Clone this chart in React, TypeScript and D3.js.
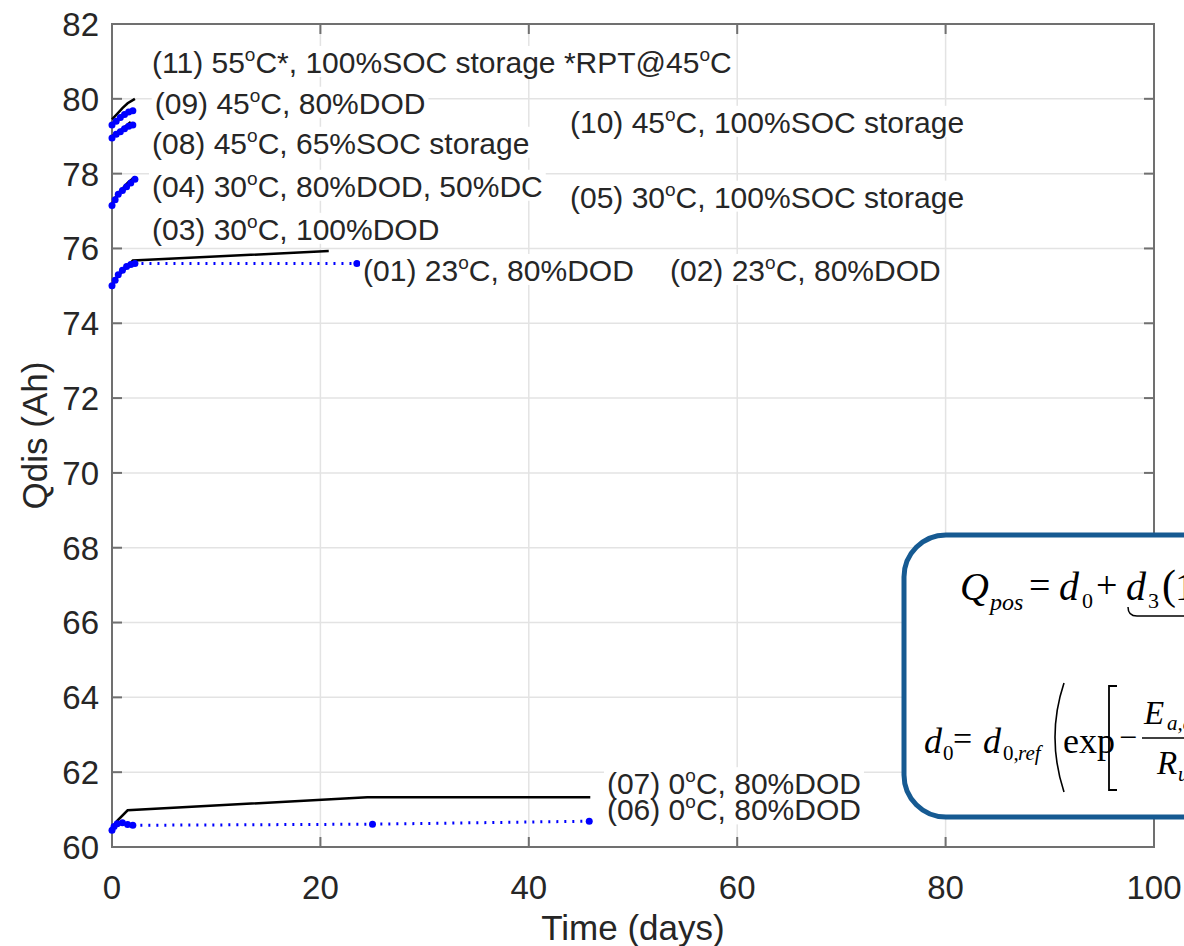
import React, { useEffect, useRef } from "react";
import * as d3 from "d3";

const W = 1184;
const H = 946;

const xTicks = [0, 20, 40, 60, 80, 100];
const yTicks = [60, 62, 64, 66, 68, 70, 72, 74, 76, 78, 80, 82];

// black solid series
const tBlack23 = [0, 0.3, 0.7, 1.2, 2, 20.8];
const qBlack23 = [75.0, 75.15, 75.3, 75.45, 75.68, 75.93];
const tBlack0 = [0, 0.5, 1.5, 24.5, 45.9];
const qBlack0 = [60.45, 60.7, 60.98, 61.33, 61.33];
const tBlack30 = [0, 0.5, 1, 1.5, 2.2];
const qBlack30 = [77.2, 77.45, 77.6, 77.75, 77.92];
const tBlack45 = [0, 0.5, 1, 1.5, 2.2];
const qBlack45 = [79.45, 79.6, 79.75, 79.88, 80.0];
const tBlack45b = [0, 1, 1.8];
const qBlack45b = [79.0, 79.2, 79.38];

// blue dotted series with markers
const tBlue23 = [0, 0.3, 0.6, 1, 1.4, 1.8, 2.2, 23.5];
const qBlue23 = [75.0, 75.15, 75.3, 75.42, 75.52, 75.57, 75.6, 75.6];
const tBlue0 = [0, 0.2, 0.5, 1, 1.5, 2, 25, 45.8];
const qBlue0 = [60.45, 60.55, 60.62, 60.65, 60.6, 60.58, 60.61, 60.69];
const tBlue30 = [0, 0.3, 0.6, 1, 1.4, 1.8, 2.2];
const qBlue30 = [77.15, 77.3, 77.45, 77.55, 77.65, 77.75, 77.85];
const tBlue45a = [0, 0.4, 0.8, 1.2, 1.6, 2.0];
const qBlue45a = [79.3, 79.4, 79.5, 79.58, 79.65, 79.68];
const tBlue45b = [0, 0.4, 0.8, 1.2, 1.6, 2.0];
const qBlue45b = [78.95, 79.05, 79.12, 79.2, 79.27, 79.3];

// annotation labels (^o = superscript o)
const labelTexts = [
  "(11) 55^oC*, 100%SOC storage *RPT@45^oC",
  "(09) 45^oC, 80%DOD",
  "(10) 45^oC, 100%SOC storage",
  "(08) 45^oC, 65%SOC storage",
  "(04) 30^oC, 80%DOD, 50%DC",
  "(05) 30^oC, 100%SOC storage",
  "(03) 30^oC, 100%DOD",
  "(01) 23^oC, 80%DOD",
  "(02) 23^oC, 80%DOD",
  "(07) 0^oC, 80%DOD",
  "(06) 0^oC, 80%DOD",
];
const labelT = [3.84, 4.1, 43.95, 3.84, 3.84, 43.95, 3.84, 24.1, 53.55, 47.5, 47.5];
const labelQ = [80.98, 79.89, 79.38, 78.82, 77.67, 77.38, 76.52, 75.42, 75.42, 61.7, 61.0];

const blackSeries = [
  [tBlack23, qBlack23],
  [tBlack0, qBlack0],
  [tBlack30, qBlack30],
  [tBlack45, qBlack45],
  [tBlack45b, qBlack45b],
];
const blueSeries = [
  [tBlue23, qBlue23],
  [tBlue0, qBlue0],
  [tBlue30, qBlue30],
  [tBlue45a, qBlue45a],
  [tBlue45b, qBlue45b],
];

export default function App() {
  const ref = useRef<SVGSVGElement>(null);

  useEffect(() => {
    const svg = d3.select(ref.current);
    svg.selectAll("*").remove();
    const x = d3.scaleLinear().domain([0, 100]).range([112, 1154]);
    const y = d3.scaleLinear().domain([60, 82]).range([847, 24]);
    const sans = "'Liberation Sans', Arial, Helvetica, sans-serif";
    const serif = "'Liberation Serif', 'Times New Roman', serif";

    svg.append("rect").attr("width", W).attr("height", H).attr("fill", "#fff");

    const gGrid = svg.append("g").attr("stroke", "#e3e3e3").attr("stroke-width", 1.5);
    xTicks.slice(1, -1).forEach((t) => {
      gGrid.append("line").attr("x1", x(t)).attr("x2", x(t)).attr("y1", y(60)).attr("y2", y(82));
    });
    yTicks.slice(1, -1).forEach((t) => {
      gGrid.append("line").attr("x1", x(0)).attr("x2", x(100)).attr("y1", y(t)).attr("y2", y(t));
    });

    // axes box and ticks
    const axisColor = "#707070";
    const gAx = svg.append("g").attr("stroke", axisColor).attr("stroke-width", 2).attr("fill", "none");
    gAx.append("rect").attr("x", x(0)).attr("y", y(82)).attr("width", x(100) - x(0)).attr("height", y(60) - y(82));
    const tl = 10;
    xTicks.forEach((t) => {
      gAx.append("line").attr("x1", x(t)).attr("x2", x(t)).attr("y1", y(60)).attr("y2", y(60) - tl);
      gAx.append("line").attr("x1", x(t)).attr("x2", x(t)).attr("y1", y(82)).attr("y2", y(82) + tl);
    });
    yTicks.forEach((t) => {
      gAx.append("line").attr("x1", x(0)).attr("x2", x(0) + tl).attr("y1", y(t)).attr("y2", y(t));
      gAx.append("line").attr("x1", x(100)).attr("x2", x(100) - tl).attr("y1", y(t)).attr("y2", y(t));
    });

    // tick labels
    const gTl = svg.append("g").attr("font-family", sans).attr("font-size", 33).attr("fill", "#262626");
    yTicks.forEach((t) => {
      gTl.append("text").attr("x", 99).attr("y", y(t)).attr("dy", "0.36em").attr("text-anchor", "end").text(t);
    });
    xTicks.forEach((t) => {
      gTl.append("text").attr("x", x(t)).attr("y", 899).attr("text-anchor", "middle").text(t);
    });
    const gAl = svg.append("g").attr("font-family", sans).attr("font-size", 35).attr("fill", "#262626");
    gAl.append("text").attr("x", x(50)).attr("y", 940).attr("text-anchor", "middle").text("Time (days)");
    gAl.append("text")
      .attr("transform", `translate(47, ${y(71)}) rotate(-90)`)
      .attr("text-anchor", "middle")
      .text("Qdis (Ah)");

    // data
    const line = d3.line<[number, number]>().x((d) => x(d[0])).y((d) => y(d[1]));
    blackSeries.forEach(([ts, qs]) => {
      const pts = ts.map((t, i) => [t, qs[i]] as [number, number]);
      svg.append("path").attr("d", line(pts)).attr("fill", "none").attr("stroke", "#000").attr("stroke-width", 2.5);
    });
    blueSeries.forEach(([ts, qs]) => {
      const pts = ts.map((t, i) => [t, qs[i]] as [number, number]);
      svg.append("path").attr("d", line(pts)).attr("fill", "none").attr("stroke", "#0000ff")
        .attr("stroke-width", 3).attr("stroke-dasharray", "2 6");
      pts.forEach((p) => {
        svg.append("circle").attr("cx", x(p[0])).attr("cy", y(p[1])).attr("r", 3.5).attr("fill", "#0000ff");
      });
    });

    // labels: backgrounds first, then texts
    const gBg = svg.append("g");
    const gL = svg.append("g");
    labelTexts.forEach((s, i) => {
      const bg = gBg.append("rect").attr("fill", "#fff");
      const txt = gL.append("text").attr("x", x(labelT[i])).attr("y", y(labelQ[i])).attr("dy", "0.36em")
        .attr("font-family", sans).attr("font-size", 30).attr("fill", "#262626");
      const parts = s.split("^o");
      parts.forEach((p, j) => {
        if (j > 0) {
          txt.append("tspan").attr("font-size", 19).attr("dy", -12).text("o");
          txt.append("tspan").attr("dy", 12).text(p);
        } else {
          txt.append("tspan").text(p);
        }
      });
      const bb = (txt.node() as SVGTextElement).getBBox();
      bg.attr("x", bb.x - 3).attr("y", bb.y + 2).attr("width", bb.width + 6).attr("height", bb.height - 4);
    });

    // equation box
    const gE = svg.append("g");
    gE.append("rect").attr("x", 904).attr("y", 535).attr("width", 360).attr("height", 282).attr("rx", 42)
      .attr("fill", "#fff").attr("stroke", "#165a92").attr("stroke-width", 5);
    const eq = gE.append("g").attr("font-family", serif).attr("fill", "#000");
    const put = (s: string, xx: number, yy: number, fs: number, italic = true) =>
      eq.append("text").attr("x", xx).attr("y", yy).attr("font-size", fs).attr("font-style", italic ? "italic" : "normal").text(s);
    const stroke = (d: string, w = 1.5) =>
      eq.append("path").attr("d", d).attr("fill", "none").attr("stroke", "#000").attr("stroke-width", w);
    // line 1
    put("Q", 960, 600, 40);
    put("pos", 990, 610, 24);
    put("=", 1029, 598, 38, false);
    put("d", 1059, 600, 40);
    put("0", 1082, 608, 22, false);
    put("+", 1096, 598, 38, false);
    put("d", 1126, 600, 40);
    put("3", 1148, 608, 22, false);
    put("(", 1162, 599, 42, false);
    put("1", 1175, 600, 40, false);
    stroke("M1128,607 q0,9 9,9 L1184,616");
    // line 2
    put("d", 924, 753, 36);
    put("0", 943, 760, 21, false);
    put("=", 953, 750, 34, false);
    put("d", 983, 753, 36);
    put("0,", 1003, 760, 21, false);
    put("ref", 1018, 760, 21);
    stroke("M1064,683 Q1046,737 1064,792", 1.6);
    put("exp", 1063, 753, 36, false);
    stroke("M1117,686 h-8 v104 h8", 1.8);
    put("\u2212", 1119, 748, 32, false);
    put("E", 1144, 724, 33);
    put("a,d", 1167, 730, 21);
    stroke("M1142,738 L1184,738");
    put("R", 1157, 774, 33);
    put("u", 1178, 781, 21);
  }, []);

  return (
    <svg ref={ref} width={W} height={H} style={{ position: "absolute", left: 0, top: 0, display: "block" }} />
  );
}
